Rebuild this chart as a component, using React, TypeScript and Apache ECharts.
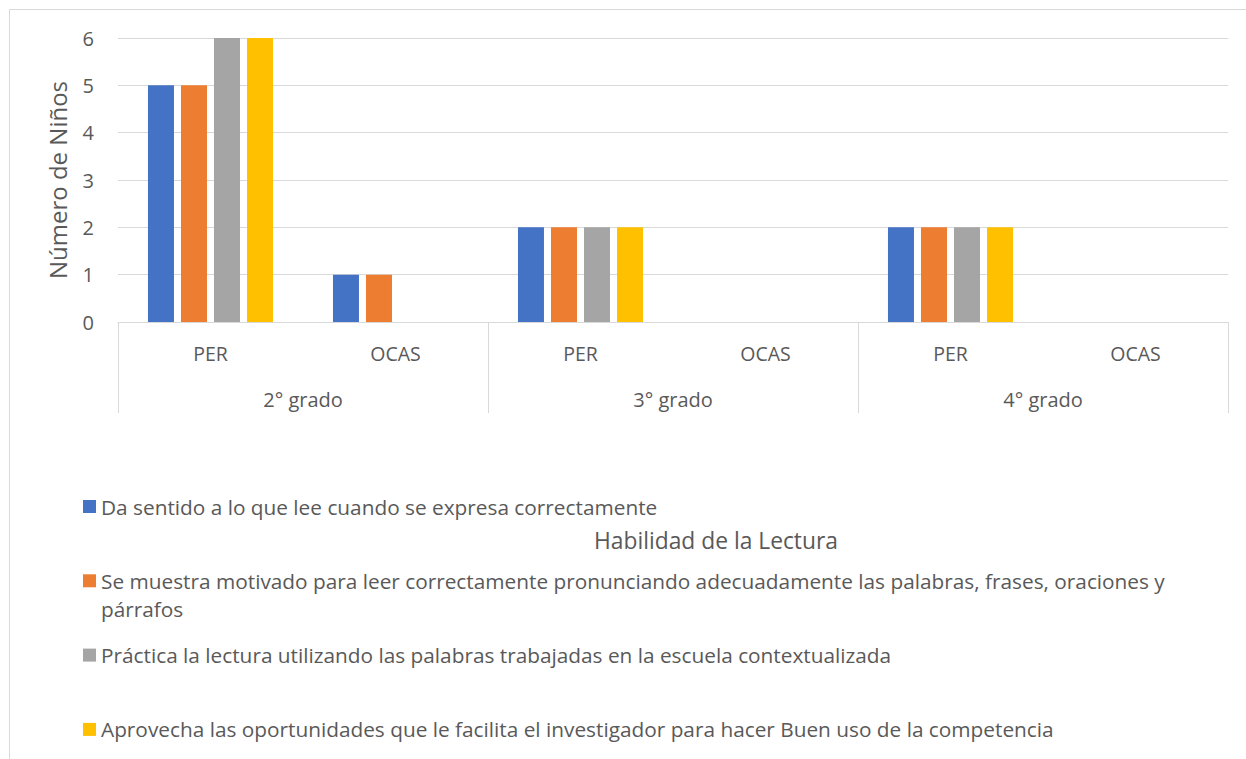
import React, { useEffect, useRef } from "react";
import * as echarts from "echarts";

const subCategories = ["PER", "OCAS", "PER", "OCAS", "PER", "OCAS"];
const grades = ["2° grado", "3° grado", "4° grado"];
const seriesNames = [
  "Da sentido a lo que lee cuando se expresa correctamente",
  "Se muestra motivado para leer correctamente pronunciando adecuadamente las palabras, frases, oraciones y párrafos",
  "Práctica la lectura utilizando las palabras trabajadas en la escuela contextualizada",
  "Aprovecha las oportunidades que le facilita el investigador para hacer Buen uso de la competencia",
];
const sentido = [5, 1, 2, 0, 2, 0];
const motivado = [5, 1, 2, 0, 2, 0];
const practica = [6, 0, 2, 0, 2, 0];
const aprovecha = [6, 0, 2, 0, 2, 0];
const colors = ["#4472C4", "#ED7D31", "#A5A5A5", "#FFC000"];
const yTitle = "Número de Niños";
const xTitle = "Habilidad de la Lectura";

const FONT = "Open Sans";
const TXT = "#595959";
const LINE = "#d9d9d9";

export default function App() {
  const ref = useRef<HTMLDivElement>(null);
  useEffect(() => {
    if (!ref.current) return;
    const chart = echarts.init(ref.current, null, { renderer: "svg" });
    const values = [sentido, motivado, practica, aprovecha];
    const option: any = {
      animation: false,
      textStyle: { fontFamily: FONT },
      grid: { left: 118, right: 18, top: 38, bottom: 759 - 322 },
      xAxis: [
        {
          type: "category",
          data: subCategories,
          position: "bottom",
          axisLine: { show: true, lineStyle: { color: LINE, width: 1 } },
          axisTick: { show: false },
          axisLabel: { color: TXT, fontSize: 19.5, fontFamily: FONT, margin: 21 },
          splitLine: { show: false },
        },
        {
          type: "category",
          data: grades,
          position: "bottom",
          axisLine: { show: false },
          axisTick: { show: true, length: 91, interval: 0, lineStyle: { color: LINE, width: 1 } },
          axisLabel: { color: TXT, fontSize: 20, fontFamily: FONT, margin: 67 },
          splitLine: { show: false },
        },
      ],
      yAxis: {
        type: "value",
        min: 0,
        max: 6,
        interval: 1,
        name: yTitle,
        nameLocation: "middle",
        nameGap: 49,
        nameTextStyle: { color: TXT, fontSize: 24, fontFamily: FONT },
        axisLine: { show: false },
        axisTick: { show: false },
        axisLabel: { color: TXT, fontSize: 20, fontFamily: FONT, margin: 24 },
        splitLine: { show: true, lineStyle: { color: LINE, width: 1 } },
      },
      legend: {
        orient: "vertical",
        left: 83,
        top: 496,
        padding: 0,
        itemWidth: 13,
        itemHeight: 13,
        itemGap: 53.3,
        icon: "rect",
        data: seriesNames,
        textStyle: { color: TXT, fontSize: 20.8, fontFamily: FONT, lineHeight: 20 },
        formatter: (name: string) =>
          name === seriesNames[1]
            ? "Se muestra motivado para leer correctamente pronunciando adecuadamente las palabras, frases, oraciones y"
            : name,
      },
      graphic: [
        {
          type: "rect",
          z: -10,
          shape: { x: 9.5, y: 9.5, width: 1400, height: 900 },
          style: { fill: "none", stroke: LINE, lineWidth: 1 },
          silent: true,
        },
        {
          type: "text",
          x: 101,
          y: 609,
          style: {
            text: "párrafos",
            fill: TXT,
            font: `20.8px '${FONT}'`,
            lineHeight: 20,
            verticalAlign: "middle",
            align: "left",
          },
        },
        {
          type: "text",
          x: 716,
          y: 540,
          style: {
            text: xTitle,
            fill: TXT,
            font: `22.8px '${FONT}'`,
            verticalAlign: "middle",
            align: "center",
          },
        },
      ],
      series: seriesNames.map((n, i) => ({
        name: n,
        type: "bar",
        xAxisIndex: 0,
        data: values[i],
        barWidth: 26,
        barGap: "27%",
        itemStyle: { color: colors[i] },
      })),
    };
    chart.setOption(option);
    return () => chart.dispose();
  }, []);
  return (
    <div
      ref={ref}
      style={{ position: "absolute", left: 0, top: 0, width: 1246, height: 759, background: "#fff" }}
    />
  );
}
